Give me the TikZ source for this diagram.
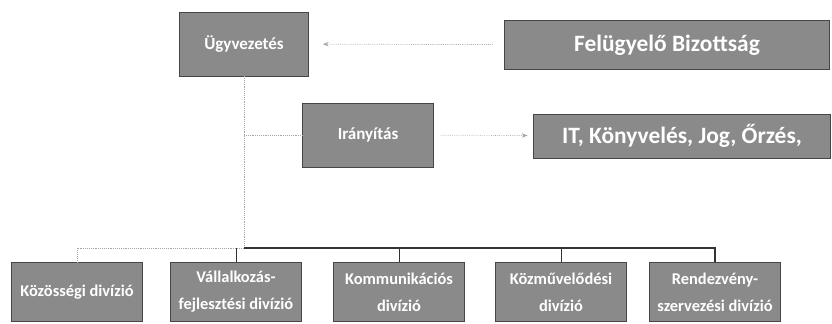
\documentclass[tikz,border=0pt]{standalone}
\usepackage{fontspec}
\setmainfont{Carlito}
\usetikzlibrary{arrows.meta, positioning}
\definecolor{unitgray}{RGB}{138,138,138}
\definecolor{edgegray}{RGB}{70,70,70}

\begin{document}
\begin{tikzpicture}[x=0.03cm, y=-0.03cm,
  unit/.style={draw=edgegray, fill=unitgray, text=white, align=center, inner sep=2pt},
  link/.style={draw=gray!70, densely dotted, line width=0.6pt},
  bus/.style={draw=gray!40!black, line width=0.9pt}]
 \useasboundingbox (0,0) rectangle (832,323);
 \node[unit, minimum width=3.87cm, minimum height=1.92cm, font=\bfseries\fontsize{14.5}{17}\selectfont] (ugy) at (244,44) {Ügyvezetés};
 \node[unit, minimum width=9.75cm, minimum height=1.47cm, font=\bfseries\fontsize{20}{24}\selectfont] (fb) at (667,45) {Felügyelő Bizottság};
 \node[unit, minimum width=3.93cm, minimum height=1.92cm, font=\bfseries\fontsize{14.5}{17}\selectfont] (iry) at (368,135) {Irányítás};
 \node[unit, minimum width=8.9cm, minimum height=1.32cm, font=\bfseries\fontsize{20}{24}\selectfont] (it) at (682,136) {IT, Könyvelés, Jog, Őrzés,};
 \foreach \i/\x/\txt in {1/77/Közösségi divízió, 2/236/Vállalkozás-\\fejlesztési divízió, 3/399/Kommunikációs\\divízió, 4/561/Közművelődési\\divízió, 5/715/Rendezvény-\\szervezési divízió}{
   \node[unit, minimum width=3.93cm, minimum height=1.77cm, font=\bfseries\fontsize{14}{23}\selectfont] (c\i) at (\x,292) {\txt};
 }
 \coordinate (bus) at (244,248);
 % felugyelet es iranyitas
 \draw[link, -{Stealth[length=5pt]}, shorten <=10pt, shorten >=12pt] (fb) -- (ugy);
 \draw[link, -{Stealth[length=5pt]}, shorten <=6pt, shorten >=5pt] (iry) -- (it);
 \draw[link] (ugy.south) -- (bus);
 \draw[link] (ugy.south |- iry.west) -- (iry.west);
 % diviziok
 \draw[link] (c1.north) |- (bus);
 \draw[bus] (bus) -| (c5.north);
 \foreach \i in {2,3,4}{
   \draw[bus, line width=0.5pt] (c\i.north) -- (c\i.north |- bus);
 }
\end{tikzpicture}
\end{document}
